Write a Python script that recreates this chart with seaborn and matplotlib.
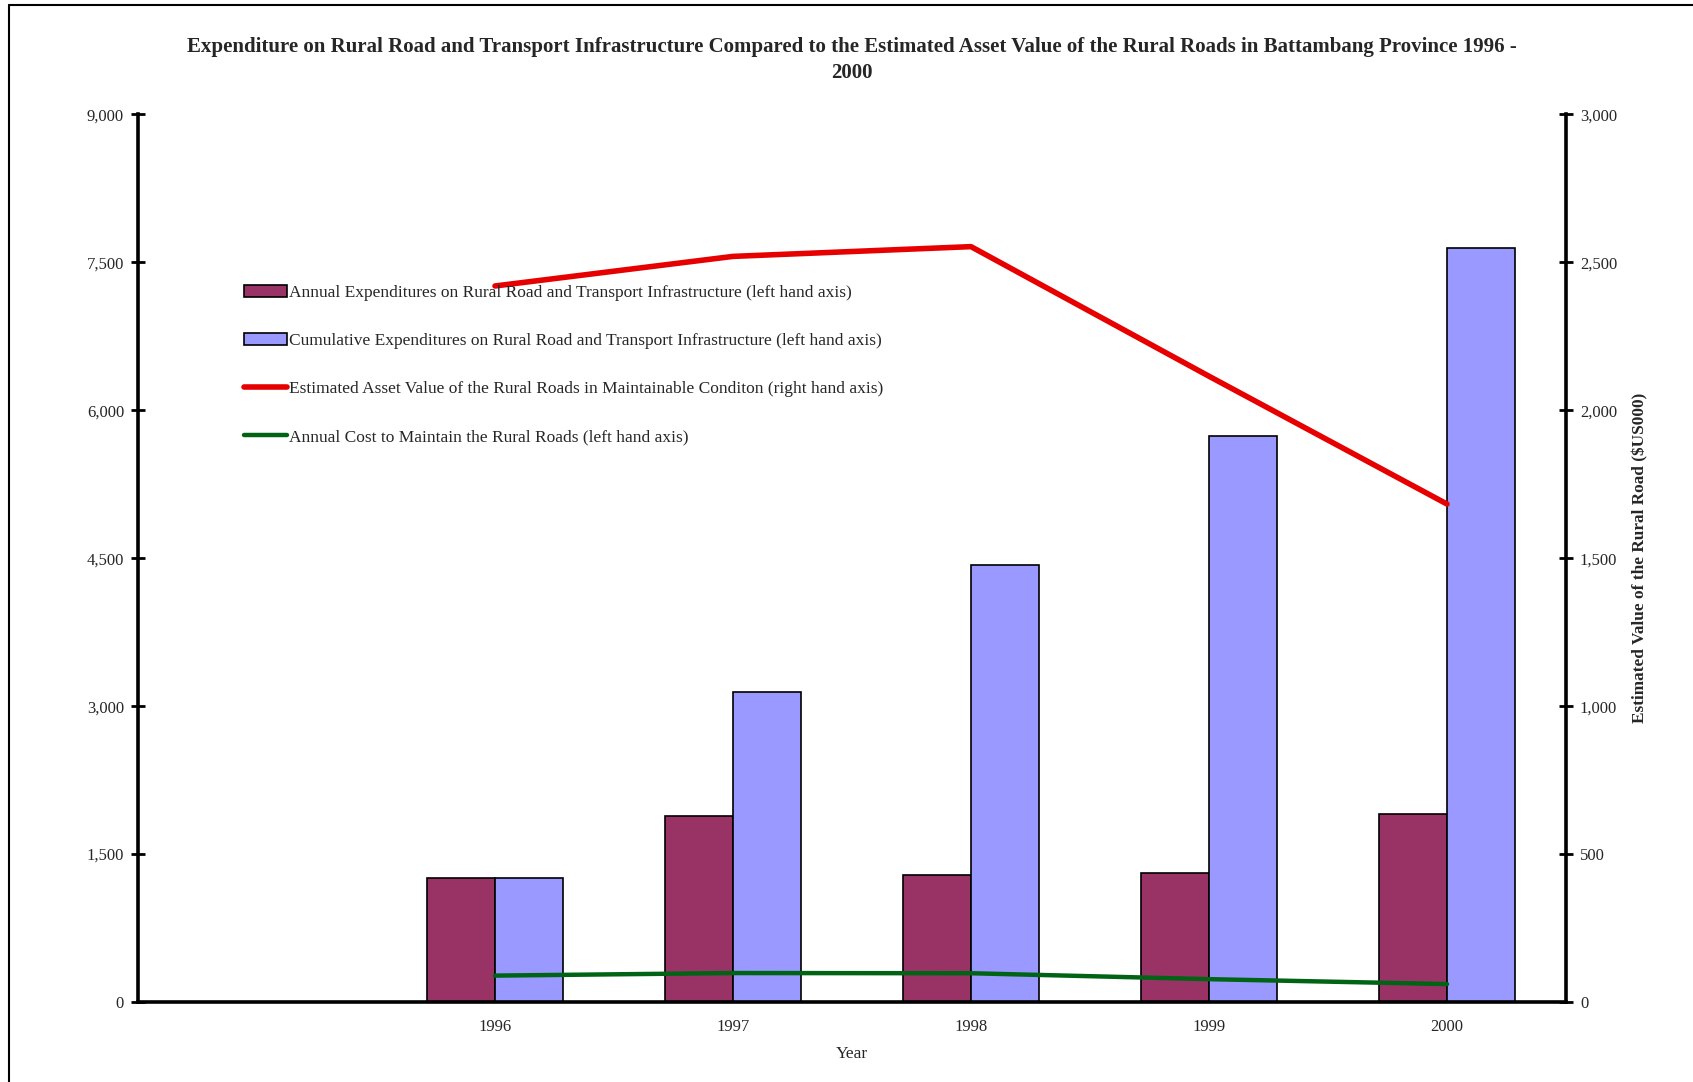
import numpy as np
import pandas as pd
import matplotlib
matplotlib.use("Agg")
import matplotlib.pyplot as plt
from matplotlib.lines import Line2D
import seaborn as sns

# ---- data ----
years = ["1996", "1997", "1998", "1999", "2000"]
annual_exp = [1254, 1889, 1288, 1308, 1906]
cumulative_exp = [1254, 3143, 4431, 5739, 7645]
asset_value = [2420, 2520, 2553, 2115, 1683]      # right-hand axis
maint_cost = [268, 294, 292, 232, 182]             # left-hand axis

lab_annual = "Annual Expenditures on Rural Road and Transport Infrastructure (left hand axis)"
lab_cum = "Cumulative Expenditures on Rural Road and Transport Infrastructure (left hand axis)"
lab_asset = "Estimated Asset Value of the Rural Roads in Maintainable Conditon (right hand axis)"
lab_maint = "Annual Cost to Maintain the Rural Roads (left hand axis)"

left_ticks = [0, 1500, 3000, 4500, 6000, 7500, 9000]
right_ticks = [0, 500, 1000, 1500, 2000, 2500, 3000]

title = ("Expenditure on Rural Road and Transport Infrastructure Compared to the Estimated Asset Value of the Rural Roads in Battambang Province 1996 -\n2000")

# ---- style ----
sns.set_theme(style="white")
plt.rcParams["font.family"] = ["Liberation Serif", "DejaVu Serif"]

c_annual = "#993366"
c_cum = "#9999FF"
c_red = "#E60000"
c_green = "#006414"

fig = plt.figure(figsize=(16.93, 10.82), dpi=100)
ax = fig.add_axes([0.0815, 0.0739, 0.925 - 0.0815, 0.8943 - 0.0739])

df = pd.DataFrame({
    "Year": years * 2,
    "Value": annual_exp + cumulative_exp,
    "Series": [lab_annual] * len(years) + [lab_cum] * len(years),
})

sns.barplot(data=df, x="Year", y="Value", hue="Series",
            palette=[c_annual, c_cum], width=0.57, edgecolor="black",
            linewidth=1.2, saturation=1, ax=ax, legend=True)

pos = np.arange(len(years))
sns.lineplot(x=pos, y=maint_cost, color=c_green, linewidth=3.2,
             label=lab_maint, ax=ax, sort=False)

ax2 = ax.twinx()
sns.lineplot(x=pos, y=asset_value, color=c_red, linewidth=4.0,
             label=lab_asset, ax=ax2, sort=False)

# axes limits / ticks
ax.set_xlim(-1.5, len(years) - 0.5)
ax.set_ylim(0, 9000)
ax2.set_ylim(0, 3000)
ax.set_yticks(left_ticks)
ax.set_yticklabels([f"{v:,}" for v in left_ticks])
ax2.set_yticks(right_ticks)
ax2.set_yticklabels([f"{v:,}" for v in right_ticks])

bounds = np.arange(-0.5, len(years) - 0.5, 1.0)
ax.set_xticks(bounds)
ax.set_xticklabels([""] * len(bounds))
ax.set_xticks(pos, minor=True)
ax.set_xticklabels(years, minor=True)

ax.tick_params(axis="x", which="major", direction="inout", length=10, width=2, color="black")
ax.tick_params(axis="x", which="minor", length=0, pad=12, labelsize=12)
ax.tick_params(axis="y", direction="inout", length=10, width=2, color="black",
               labelsize=12, pad=5, left=True)
ax2.tick_params(axis="y", direction="inout", length=10, width=2, color="black",
                labelsize=12, pad=5, right=True)

for a in (ax, ax2):
    for s in a.spines.values():
        s.set_visible(False)
ax.spines["left"].set_visible(True)
ax.spines["bottom"].set_visible(True)
ax2.spines["right"].set_visible(True)
for s in (ax.spines["left"], ax.spines["bottom"], ax2.spines["right"]):
    s.set_linewidth(2.6)
    s.set_color("black")
ax.grid(False)
ax2.grid(False)

ax.set_xlabel("Year", fontsize=12.5, labelpad=8)
ax.set_ylabel("")
ax2.set_ylabel("Estimated Value of the Rural Road ($US000)", fontsize=12.4,
               fontweight="bold", labelpad=11)

ax.set_title(title, fontsize=15, fontweight="bold", pad=26, linespacing=1.42)

# legend (combined)
h1, l1 = ax.get_legend_handles_labels()
h2, l2 = ax2.get_legend_handles_labels()
hmap = dict(zip(l1 + l2, h1 + h2))
order = [lab_annual, lab_cum, lab_asset, lab_maint]
for a in (ax, ax2):
    if a.get_legend() is not None:
        a.get_legend().remove()
leg = ax2.legend([hmap[k] for k in order], order, loc="upper left",
                 bbox_to_anchor=(0.1441, 0.7365), bbox_transform=fig.transFigure,
                 frameon=False, fontsize=12.5, borderpad=0, borderaxespad=0,
                 handlelength=2.5, handletextpad=0.12, labelspacing=1.83)

# figure border (top & left)
fig.add_artist(Line2D([9 / 1693, 1.0], [1 - 5 / 1082, 1 - 5 / 1082],
                      transform=fig.transFigure, color="black", linewidth=1.5))
fig.add_artist(Line2D([9 / 1693, 9 / 1693], [0.0, 1 - 5 / 1082],
                      transform=fig.transFigure, color="black", linewidth=1.5))

fig.savefig("out.png", dpi=100)
